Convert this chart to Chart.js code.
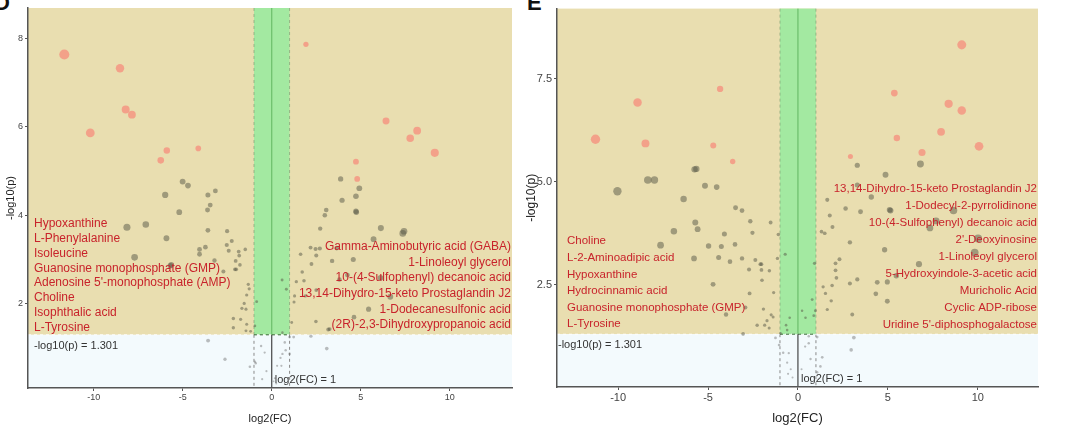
<!DOCTYPE html>
<html>
<head>
<meta charset="utf-8">
<script src="https://cdn.jsdelivr.net/npm/chart.js@4.4.1/dist/chart.umd.min.js"></script>
<style>
  body { margin: 0; background: #fff; width: 1080px; height: 426px; overflow: hidden; position: relative; font-family: "Liberation Sans", Arial, sans-serif; }
  .panel { position: absolute; top: 0; height: 426px; }
  .tag { position: absolute; font-weight: bold; font-size: 22px; line-height: 22px; color: #111; }
</style>
</head>
<body>
<div class="tag" style="left:-6px;top:-8px">D</div>
<div class="tag" style="left:527px;top:-8px">E</div>
<div class="panel" id="wrapD" style="left:0;width:530px"><canvas id="chartD"></canvas></div>
<div class="panel" id="wrapE" style="left:522px;width:558px"><canvas id="chartE"></canvas></div>
<script>
// cut-offs
const pCut = 1.301;
const fcCut = 1;

// panel D  [log2(FC), -log10(p)]
const dRedPts = [
  [-11.66, 7.63], [-8.53, 7.32], [-8.21, 6.39], [-7.86, 6.27], [-10.2, 5.86], [-5.9, 5.46], [-6.24, 5.24],
  [-4.13, 5.51], [1.92, 7.86], [6.42, 6.13], [8.17, 5.91], [7.78, 5.74], [9.16, 5.41], [4.73, 5.21], [4.8, 4.82]
];
const dGreyPts = [
  [-5.01, 4.76], [-4.71, 4.67], [-5.99, 4.46], [-3.59, 4.46], [-3.17, 4.55], [-3.46, 4.23], [-3.61, 4.12], [-5.2, 4.07],
  [-8.14, 3.73], [-7.08, 3.79], [-5.92, 3.48], [-7.71, 3.05], [-5.7, 2.86], [-5.65, 2.88], [-3.59, 3.66], [-2.51, 3.64],
  [-3.73, 3.28], [-4.06, 3.23], [-4.06, 3.12], [-3.22, 2.98], [-2.25, 3.42], [-2.53, 3.33], [-2.42, 3.2], [-1.86, 3.18],
  [-1.49, 3.23], [-1.83, 3.09], [-2.03, 2.97], [-1.79, 2.88], [-2.07, 2.78], [-2.0, 2.78], [-2.72, 2.73], [-1.32, 2.44],
  [-1.27, 2.34], [-1.41, 2.2], [-1.55, 2.01], [-1.68, 1.9], [-1.45, 1.88], [-0.85, 2.05], [-2.16, 1.67], [-1.75, 1.65],
  [-2.16, 1.46], [-1.41, 1.54], [-0.95, 1.5], [-1.45, 1.39], [-1.19, 1.38],
  [-3.58, 1.17], [-2.63, 0.75], [-1.23, 0.58], [-0.95, 0.69], [-0.9, 0.66], [-0.3, 0.48], [-0.54, 0.3], [-0.6, 1.05], [-0.4, 0.9],
  [3.87, 4.82], [4.92, 4.61], [3.95, 4.34], [4.73, 4.43], [3.06, 4.12], [4.73, 4.09], [2.98, 4.0], [4.75, 4.07],
  [2.72, 3.7], [6.13, 3.71], [5.72, 3.46], [7.43, 3.64], [7.36, 3.59], [2.18, 3.27], [2.46, 3.24], [2.7, 3.25],
  [3.65, 3.26], [1.62, 3.12], [2.5, 3.09], [4.58, 3.0], [3.39, 2.97], [2.23, 2.9], [1.71, 2.72], [4.25, 2.65],
  [3.8, 2.55], [6.11, 2.59], [1.38, 2.5], [1.81, 2.52], [0.58, 2.54], [0.82, 2.33], [1.28, 2.18], [1.88, 2.18],
  [2.5, 2.31], [1.25, 2.04], [6.66, 2.16], [5.44, 1.88], [4.62, 1.7], [2.48, 1.6], [1.12, 1.58], [3.17, 1.42],
  [3.25, 1.43], [0.6, 1.35], [2.2, 1.27], [1.0, 1.25], [1.23, 1.25],
  [3.09, 0.99], [0.73, 1.13], [0.6, 0.87], [0.49, 0.78], [1.0, 0.87], [0.3, 0.6], [0.54, 0.6], [0.78, 0.95],
  [0.17, 0.32], [0.1, 0.25], [0.25, 0.2]
];
const dLeftNames = [
  "Hypoxanthine", "L-Phenylalanine", "Isoleucine", "Guanosine monophosphate (GMP)",
  "Adenosine 5'-monophosphate (AMP)", "Choline", "Isophthalic acid", "L-Tyrosine"
];
const dRightNames = [
  "Gamma-Aminobutyric acid (GABA)", "1-Linoleoyl glycerol", "10-(4-Sulfophenyl) decanoic acid",
  "13,14-Dihydro-15-keto Prostaglandin J2", "1-Dodecanesulfonic acid", "(2R)-2,3-Dihydroxypropanoic acid"
];
const dXTicks = [-10, -5, 0, 5, 10];
const dYTicks = [2, 4, 6, 8];

// panel E
const eRedPts = [
  [-11.26, 6.03], [-8.92, 6.92], [-8.48, 5.93], [-4.33, 7.25], [-4.71, 5.88], [-3.63, 5.49], [9.11, 8.32], [5.36, 7.15],
  [8.38, 6.89], [9.11, 6.73], [7.96, 6.21], [5.5, 6.06], [10.07, 5.86], [6.9, 5.71], [2.92, 5.61]
];
const eGreyPts = [
  [-5.75, 5.3], [-5.65, 5.31], [-8.35, 5.04], [-7.98, 5.04], [-10.04, 4.77], [-5.17, 4.9], [-4.52, 4.87], [-6.36, 4.58],
  [-3.47, 4.37], [-3.11, 4.3], [-5.71, 4.01], [-5.58, 3.85], [-6.9, 3.8], [-4.09, 3.73], [-2.65, 4.04], [-1.52, 4.01],
  [-2.53, 3.76], [-1.09, 3.72], [-7.64, 3.46], [-4.97, 3.44], [-4.26, 3.43], [-3.5, 3.48], [-5.78, 3.14], [-4.41, 3.16],
  [-3.78, 3.06], [-3.11, 3.14], [-2.37, 3.1], [-2.09, 3.0], [-2.03, 3.0], [-2.03, 2.86], [-1.59, 2.84], [-2.72, 2.87],
  [-1.14, 3.14], [-0.71, 3.24], [-2.0, 2.61], [-4.72, 2.51], [-2.69, 2.29], [-1.35, 2.31], [-2.92, 1.95], [-1.92, 1.91],
  [-1.49, 1.77], [-1.38, 1.72], [-4.0, 1.78], [-1.72, 1.63], [-1.85, 1.52], [-1.6, 1.45], [-2.27, 1.52], [-0.66, 1.52],
  [-0.6, 1.4], [-0.46, 1.7],
  [-3.05, 1.31], [-0.97, 1.32], [-1.25, 1.21], [-1.05, 1.04], [-0.82, 0.85], [-0.51, 0.84], [-0.6, 0.61], [-0.55, 0.34],
  [-0.3, 0.25], [-0.4, 0.45], [0.6, 1.25], [0.6, 1.08],
  [3.3, 5.4], [6.81, 5.43], [4.87, 5.17], [3.3, 4.92], [4.08, 4.63], [1.63, 4.56], [2.65, 4.35], [3.48, 4.27],
  [5.1, 4.32], [5.15, 4.3], [8.65, 4.3], [1.77, 4.18], [7.68, 4.05], [7.34, 3.88], [1.92, 3.9], [1.31, 3.79],
  [1.49, 3.75], [10.02, 3.62], [2.89, 3.53], [9.83, 3.28], [4.82, 3.35], [6.73, 3.0], [2.31, 3.12], [2.09, 3.02],
  [2.09, 2.85], [2.14, 2.67], [3.3, 2.63], [2.89, 2.53], [1.9, 2.48], [1.4, 2.45], [4.41, 2.56], [4.97, 2.57],
  [5.47, 2.72], [4.33, 2.28], [1.53, 2.29], [1.85, 2.11], [4.97, 2.1], [1.63, 1.9], [3.02, 1.78], [0.79, 2.14],
  [0.92, 3.02], [0.97, 1.87], [0.88, 1.75], [0.23, 1.87], [0.42, 1.7],
  [3.11, 1.22], [2.96, 0.92], [1.07, 1.23], [1.35, 0.74], [1.25, 0.52], [1.07, 0.38], [0.4, 1.0], [0.7, 0.7], [0.2, 0.45]
];
const eLeftNames = [
  "Choline", "L-2-Aminoadipic acid", "Hypoxanthine", "Hydrocinnamic acid",
  "Guanosine monophosphate (GMP)", "L-Tyrosine"
];
const eRightNames = [
  "13,14-Dihydro-15-keto Prostaglandin J2", "1-Dodecyl-2-pyrrolidinone", "10-(4-Sulfophenyl) decanoic acid",
  "2'-Deoxyinosine", "1-Linoleoyl glycerol", "5-Hydroxyindole-3-acetic acid", "Muricholic Acid",
  "Cyclic ADP-ribose", "Uridine 5'-diphosphogalactose"
];
const eXTicks = [-10, -5, 0, 5, 10];
const eYTicks = [2.5, 5.0, 7.5];

const FONT = '"Liberation Sans", Arial, sans-serif';

// point size grows with fold change and significance
function dotSize(p) {
  return 0.9 + 0.25 * Math.abs(p.x) + 0.16 * p.y;
}

const zonesPlugin = {
  id: 'zones',
  beforeDraw(chart) {
    const { ctx, chartArea: a, scales: { x, y } } = chart;
    const yT = y.getPixelForValue(pCut);
    const xl = x.getPixelForValue(-fcCut);
    const xr = x.getPixelForValue(fcCut);
    const x0 = x.getPixelForValue(0);
    ctx.save();
    ctx.fillStyle = '#E9DEB0';
    ctx.fillRect(a.left, a.top, a.width, yT - a.top);
    ctx.fillStyle = '#F3FAFD';
    ctx.fillRect(a.left, yT, a.width, a.bottom - yT);
    ctx.fillStyle = '#A3E9A1';
    ctx.fillRect(xl, a.top, xr - xl, yT - a.top);

    ctx.lineWidth = 1;
    ctx.setLineDash([3, 3]);
    ctx.strokeStyle = 'rgba(120,150,110,0.6)';
    [xl, xr].forEach(px => {
      ctx.beginPath(); ctx.moveTo(px, a.top); ctx.lineTo(px, yT); ctx.stroke();
    });
    ctx.strokeStyle = '#8a8a8a';
    [xl, xr].forEach(px => {
      ctx.beginPath(); ctx.moveTo(px, yT); ctx.lineTo(px, a.bottom); ctx.stroke();
    });
    ctx.strokeStyle = 'rgba(255,255,255,0.9)';
    ctx.beginPath(); ctx.moveTo(a.left, yT); ctx.lineTo(a.right, yT); ctx.stroke();
    ctx.strokeStyle = '#3a6a3a';
    ctx.beginPath(); ctx.moveTo(xl, yT); ctx.lineTo(xr, yT); ctx.stroke();
    ctx.setLineDash([]);
    ctx.strokeStyle = 'rgba(70,160,70,0.7)';
    ctx.beginPath(); ctx.moveTo(x0, a.top); ctx.lineTo(x0, yT); ctx.stroke();
    ctx.strokeStyle = '#222';
    ctx.beginPath(); ctx.moveTo(x0, yT); ctx.lineTo(x0, a.bottom); ctx.stroke();
    ctx.restore();
  }
};

const namesPlugin = {
  id: 'names',
  afterDatasetsDraw(chart, args, o) {
    const { ctx, chartArea: a, scales: { x, y } } = chart;
    const yT = y.getPixelForValue(pCut);
    ctx.save();
    ctx.textBaseline = 'middle';
    ctx.fillStyle = '#C8232B';
    ctx.font = o.nameSize + 'px ' + FONT;
    ctx.textAlign = 'left';
    o.left.forEach((t, i) => {
      ctx.fillText(t, a.left + o.leftInset, yT - o.leftGap - (o.left.length - 1 - i) * o.leftStep);
    });
    ctx.textAlign = 'right';
    o.right.forEach((t, i) => {
      ctx.fillText(t, a.right - 1, yT - o.rightGap - (o.right.length - 1 - i) * o.rightStep);
    });
    ctx.fillStyle = '#333';
    ctx.font = '11px ' + FONT;
    ctx.textAlign = 'left';
    ctx.fillText('-log10(p) = ' + pCut, a.left + o.cutInset, yT + 11);
    ctx.fillText('log2(FC) = ' + fcCut, x.getPixelForValue(0) + 3, a.bottom - 8);
    ctx.restore();
  }
};

function makePanel(id, s) {
  const pts = arr => arr.map(p => ({ x: p[0], y: p[1] }));
  new Chart(document.getElementById(id), {
    type: 'scatter',
    data: {
      datasets: [
        {
          label: 'other',
          data: pts(s.grey),
          backgroundColor: c => c.raw && c.raw.y < pCut ? 'rgba(110,110,110,0.45)' : 'rgba(85,85,70,0.5)',
          borderWidth: 0,
          pointRadius: c => dotSize(c.raw),
          pointHoverRadius: c => dotSize(c.raw)
        },
        {
          label: 'significant',
          data: pts(s.red),
          backgroundColor: 'rgba(244,150,130,0.85)',
          borderWidth: 0,
          pointRadius: c => dotSize(c.raw),
          pointHoverRadius: c => dotSize(c.raw)
        }
      ]
    },
    options: {
      responsive: true,
      maintainAspectRatio: false,
      animation: false,
      layout: { padding: s.pad },
      plugins: {
        legend: { display: false },
        tooltip: { enabled: false },
        names: s.names
      },
      scales: {
        x: {
          type: 'linear',
          min: s.xMin, max: s.xMax,
          afterBuildTicks: sc => { sc.ticks = s.xTicks.map(v => ({ value: v })); },
          afterFit: sc => { sc.height = s.xAxisH; },
          grid: { display: true, drawOnChartArea: false, drawTicks: true, tickLength: 3, color: '#555' },
          border: { display: true, color: '#555', width: 1.5 },
          ticks: { color: '#444', font: { size: s.tickSize, family: FONT }, padding: 1, maxRotation: 0 },
          title: { display: true, text: 'log2(FC)', color: '#222', font: { size: s.titleSize, family: FONT }, padding: { top: 1, bottom: 0 } }
        },
        y: {
          type: 'linear',
          min: s.yMin, max: s.yMax,
          afterBuildTicks: sc => { sc.ticks = s.yTicks.map(v => ({ value: v })); },
          afterFit: sc => { sc.width = s.yAxisW; },
          grid: { display: true, drawOnChartArea: false, drawTicks: true, tickLength: 3, color: '#555' },
          border: { display: true, color: '#555', width: 1.5 },
          ticks: { color: '#444', font: { size: s.tickSize, family: FONT }, padding: 2, callback: s.yFmt },
          title: { display: true, text: '-log10(p)', color: '#222', font: { size: s.yTitleSize, family: FONT }, padding: { top: s.yTitlePad, bottom: 0 } }
        }
      }
    },
    plugins: [zonesPlugin, namesPlugin]
  });
}

makePanel('chartD', {
  red: dRedPts, grey: dGreyPts,
  xMin: -13.7, xMax: 13.5, yMin: 0.1, yMax: 8.68,
  xTicks: dXTicks, yTicks: dYTicks, yFmt: v => String(v),
  pad: { left: 0, right: 18, top: 8, bottom: 0 },
  xAxisH: 38, yAxisW: 28, tickSize: 9, titleSize: 11, yTitleSize: 11, yTitlePad: 4,
  names: { left: dLeftNames, right: dRightNames, nameSize: 12, leftInset: 6, leftGap: 7, leftStep: 14.9,
           rightGap: 10, rightStep: 15.6, cutInset: 6 }
});

makePanel('chartE', {
  red: eRedPts, grey: eGreyPts,
  xMin: -13.4, xMax: 13.35, yMin: 0.02, yMax: 9.2,
  xTicks: eXTicks, yTicks: eYTicks, yFmt: v => v.toFixed(1),
  pad: { left: 0, right: 42, top: 6, bottom: 0 },
  xAxisH: 39, yAxisW: 35, tickSize: 11, titleSize: 13, yTitleSize: 12, yTitlePad: 2,
  names: { left: eLeftNames, right: eRightNames, nameSize: 11.5, leftInset: 10, leftGap: 10, leftStep: 16.6,
           rightGap: 9, rightStep: 17, cutInset: 1 }
});
</script>
</body>
</html>
